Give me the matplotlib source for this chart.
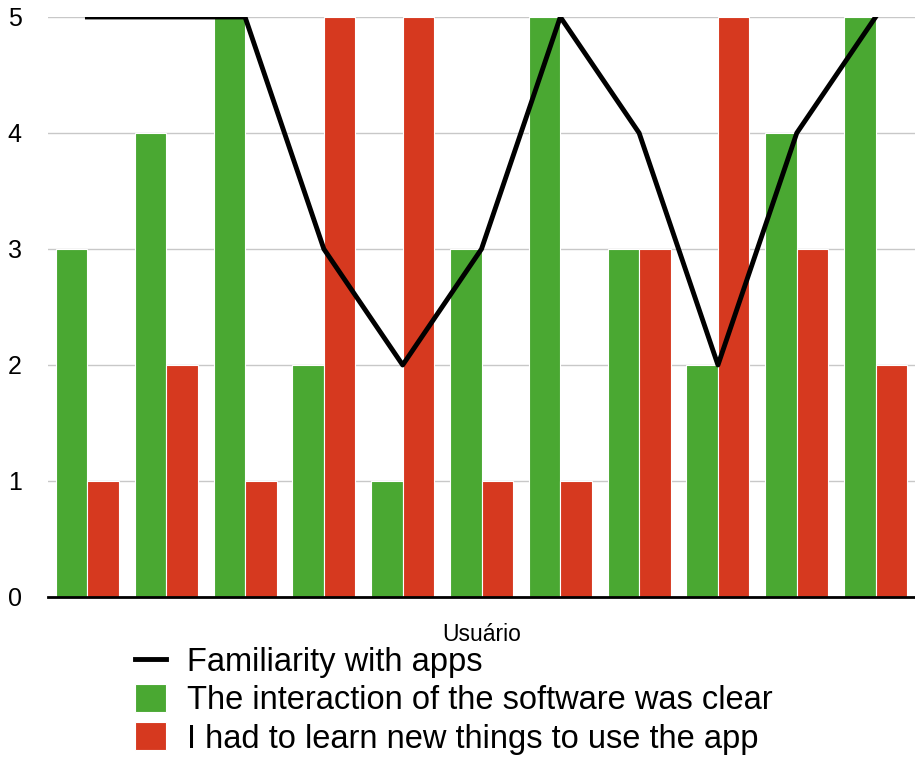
import numpy as np
import matplotlib.pyplot as plt

plt.rcParams['font.family'] = ['Liberation Sans', 'DejaVu Sans']

# survey answers per user (1-5 scale)
familiarity = [5, 5, 5, 3, 2, 3, 5, 4, 2, 4, 5]
clear_interaction = [3, 4, 5, 2, 1, 3, 5, 3, 2, 4, 5]
learn_new_things = [1, 2, 1, 5, 5, 1, 1, 3, 5, 3, 2]
series_labels = ["Familiarity with apps",
                 "The interaction of the software was clear",
                 "I had to learn new things to use the app"]

green = "#4aa832"
red = "#d6391f"

fig = plt.figure(figsize=(9.15, 7.58), dpi=100)
ax = fig.add_axes([48 / 915, 1 - 597 / 758, 867 / 915, 580 / 758])

x = np.arange(len(familiarity))
w = 0.4
line, = ax.plot(x, familiarity, color="black", linewidth=3.5,
                label=series_labels[0], zorder=3)
b1 = ax.bar(x - w / 2, clear_interaction, w, color=green, edgecolor="#ffffff",
            linewidth=0.8, label=series_labels[1], zorder=2)
b2 = ax.bar(x + w / 2, learn_new_things, w, color=red, edgecolor="#ffffff",
            linewidth=0.8, label=series_labels[2], zorder=2)

ax.set_xlim(-0.5, len(x) - 0.5)
ax.set_ylim(0, 5)
ax.set_yticks(range(6))
ax.set_xticks([])
ax.yaxis.grid(True, color="#c8c8c8", linewidth=1)
ax.set_axisbelow(True)
for side in ["left", "right", "top"]:
    ax.spines[side].set_visible(False)
ax.spines["bottom"].set_linewidth(2)
ax.spines["bottom"].set_zorder(4)
ax.tick_params(axis="y", length=0, pad=19, labelsize=18)
ax.set_xlabel("Usuário", fontsize=16.5, labelpad=19)

fig.legend([line, b1, b2], series_labels,
           loc="upper left", bbox_to_anchor=(135 / 915, 1 - 646 / 758),
           frameon=False, fontsize=23.5, handlelength=0.95, handleheight=0.95,
           handletextpad=0.65, labelspacing=0.18, borderpad=0, borderaxespad=0)

fig.savefig("out.png", dpi=100)
